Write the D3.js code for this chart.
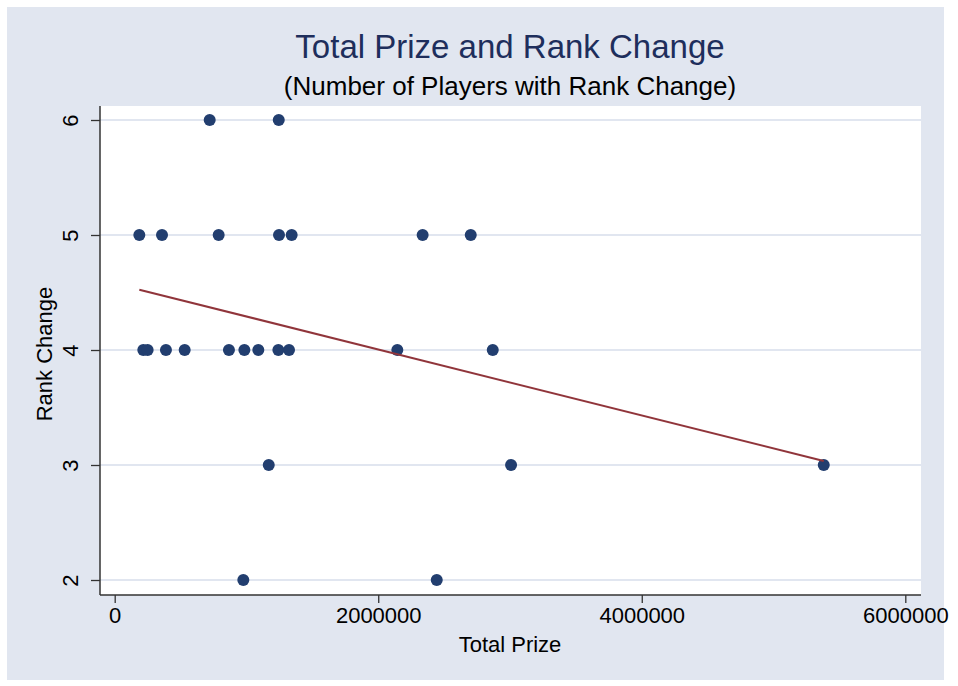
<!DOCTYPE html>
<html>
<head>
    <title>Total Prize and Rank Change</title>
    <script src="https://d3js.org/d3.v7.min.js"></script>
    <style>
      body{margin:0;background:white;}
      text{font-family:"Liberation Sans",Arial,sans-serif;fill:black;}
      .tick text{font-size:22px;}
      .tick line{stroke:#333;stroke-width:1.3;}
      .grid line{stroke:#e1e6f0;stroke-width:2;}
    </style>
</head>
<body>
<script>
// players: total prize (USD) and rank change
var prize=[721000,1245000,
           187000,359000,789000,1247000,1343000,2337000,2702000,
           217000,250000,389000,531000,867000,984000,1090000,1242000,1323000,2145000,2869000,
           1169000,3008000,5381000,
           976000,2444000];
var rankChange=[6,6,
                5,5,5,5,5,5,5,
                4,4,4,4,4,4,4,4,4,4,4,
                3,3,3,
                2,2];
var xTicks=[0,2000000,4000000,6000000];
var yTicks=[2,3,4,5,6];
// linear fit
var fitIntercept=4.578, fitSlope=-0.2867e-6;

var width=958,height=686;
var svg=d3.select("body").append("svg").attr("width",width).attr("height",height);

svg.append("rect").attr("x",7).attr("y",7).attr("width",937).attr("height",673).attr("fill","#e1e6f0");
svg.append("rect").attr("x",100).attr("y",106).attr("width",821).attr("height",489).attr("fill","white");

var x=d3.scaleLinear().domain([0,6000000]).range([114.7,905.3]);
var y=d3.scaleLinear().domain([2,6]).range([580,120]);

// grid
svg.append("g").attr("class","grid").selectAll("line").data(yTicks).enter().append("line")
  .attr("x1",100).attr("x2",921).attr("y1",function(d){return y(d)}).attr("y2",function(d){return y(d)});

// axes
var yAxis=svg.append("g").attr("transform","translate(100,0)")
  .call(d3.axisLeft(y).tickValues(yTicks).tickSize(9).tickFormat(d3.format("d")));
yAxis.select(".domain").remove();
yAxis.selectAll("text").attr("transform","rotate(-90)").attr("x",0).attr("y",-30)
  .attr("text-anchor","middle").attr("dy","0.35em");

var xAxis=svg.append("g").attr("transform","translate(0,595)")
  .call(d3.axisBottom(x).tickValues(xTicks).tickSize(8).tickPadding(4).tickFormat(d3.format("d")));
xAxis.select(".domain").remove();

svg.append("line").attr("x1",100).attr("x2",100).attr("y1",106).attr("y2",595).attr("stroke","#333").attr("stroke-width",1.5);
svg.append("line").attr("x1",100).attr("x2",921).attr("y1",595).attr("y2",595).attr("stroke","#333").attr("stroke-width",1.5);

// points
var pts=prize.map(function(p,i){return {x:p,y:rankChange[i]}});
svg.append("g").selectAll("circle").data(pts).enter().append("circle")
  .attr("cx",function(d){return x(d.x)}).attr("cy",function(d){return y(d.y)})
  .attr("r",6).attr("fill","#223e6f");

// fitted line
var ext=d3.extent(prize);
var fit=ext.map(function(v){return [x(v),y(fitIntercept+fitSlope*v)]});
svg.append("path").attr("d",d3.line()(fit)).attr("fill","none").attr("stroke","#90353b").attr("stroke-width",2);

// titles
svg.append("text").attr("x",510).attr("y",58).attr("text-anchor","middle")
  .style("font-size","33px").style("fill","#1e2e5c").text("Total Prize and Rank Change");
svg.append("text").attr("x",510).attr("y",95).attr("text-anchor","middle")
  .style("font-size","26px").text("(Number of Players with Rank Change)");
svg.append("text").attr("x",510).attr("y",652).attr("text-anchor","middle")
  .style("font-size","22px").text("Total Prize");
svg.append("text").attr("transform","translate(52,354) rotate(-90)").attr("text-anchor","middle")
  .style("font-size","22px").text("Rank Change");
</script>
</body>
</html>
